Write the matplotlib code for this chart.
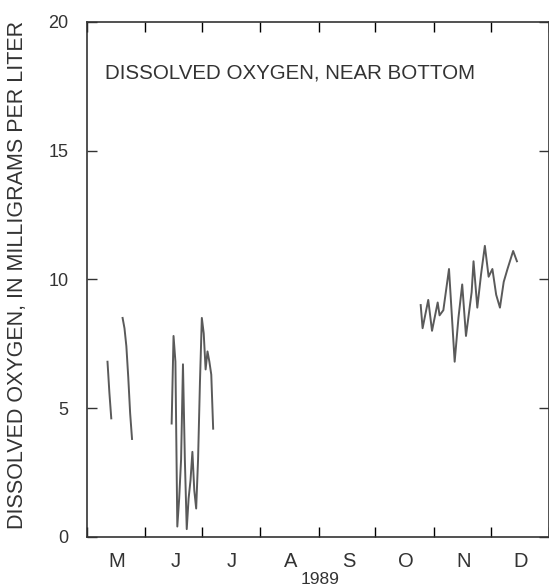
import numpy as np
import pandas as pd
import matplotlib
matplotlib.use("Agg")
import matplotlib.pyplot as plt
import matplotlib.dates as mdates

plt.rcParams['font.family'] = ['Liberation Sans', 'DejaVu Sans']

# Data (daily dissolved oxygen, mg/L); gaps are separate pieces
may_a_dates = ["1989-05-12", "1989-05-13", "1989-05-14"]
may_a_vals = [6.8, 5.6, 4.6]

may_b_dates = ["1989-05-20", "1989-05-21", "1989-05-22", "1989-05-23", "1989-05-24", "1989-05-25"]
may_b_vals = [8.5, 8.1, 7.4, 6.2, 4.8, 3.8]

jun_dates = ["1989-06-15", "1989-06-16", "1989-06-17", "1989-06-18", "1989-06-19",
             "1989-06-20", "1989-06-21", "1989-06-22", "1989-06-23", "1989-06-24",
             "1989-06-25", "1989-06-26", "1989-06-27", "1989-06-28", "1989-06-29",
             "1989-06-30", "1989-07-01", "1989-07-02", "1989-07-03", "1989-07-04",
             "1989-07-05", "1989-07-06", "1989-07-07"]
jun_vals = [4.4, 7.8, 6.8, 0.4, 1.5, 3.0, 6.7, 3.0, 0.3, 1.5,
            2.2, 3.3, 1.8, 1.1, 3.0, 6.0, 8.5, 7.9, 6.5, 7.2,
            6.8, 6.3, 4.2]

fall_dates = ["1989-10-25", "1989-10-26", "1989-10-29", "1989-10-31", "1989-11-03",
              "1989-11-04", "1989-11-06", "1989-11-09", "1989-11-12", "1989-11-14",
              "1989-11-16", "1989-11-18", "1989-11-21", "1989-11-22", "1989-11-24",
              "1989-11-26", "1989-11-28", "1989-11-30", "1989-12-02", "1989-12-04",
              "1989-12-06", "1989-12-08", "1989-12-10", "1989-12-13", "1989-12-15"]
fall_vals = [9.0, 8.1, 9.2, 8.0, 9.1, 8.6, 8.8, 10.4, 6.8, 8.5,
             9.8, 7.8, 9.5, 10.7, 8.9, 10.2, 11.3, 10.1, 10.4, 9.4,
             8.9, 9.9, 10.4, 11.1, 10.7]

month_letters = ["M", "J", "J", "A", "S", "O", "N", "D"]

fig = plt.figure(figsize=(5.49, 5.88), dpi=100)
ax = fig.add_axes([0.158, 0.087, 0.842, 0.876])

line_color = "#5a5a5a"
for d, v in [(may_a_dates, may_a_vals), (may_b_dates, may_b_vals),
             (jun_dates, jun_vals), (fall_dates, fall_vals)]:
  ax.plot(pd.to_datetime(d), v, color=line_color, linewidth=1.4)

ax.set_xlim(pd.Timestamp("1989-05-01"), pd.Timestamp("1990-01-01"))
ax.set_ylim(0, 20)

# month boundaries as ticks, letters centred mid-month
ax.xaxis.set_major_locator(mdates.MonthLocator())
ax.xaxis.set_major_formatter(plt.NullFormatter())
ax.xaxis.set_minor_locator(mdates.MonthLocator(bymonthday=17))
ax.xaxis.set_minor_formatter(plt.FixedFormatter(month_letters))
ax.tick_params(axis="x", which="major", direction="in", length=7, width=1, top=True, bottom=True)
ax.tick_params(axis="x", which="minor", length=0, pad=11, labelsize=14.5, colors="#333333")
ax.set_yticks([0, 5, 10, 15, 20])
ax.tick_params(axis="y", direction="in", length=7, width=1, left=True, right=True,
               labelsize=13, pad=13, colors="#333333")

for s in ax.spines.values():
  s.set_color("#333333")
  s.set_linewidth(1.2)

fig.text(18/549, 1-275/588, "DISSOLVED OXYGEN, IN MILLIGRAMS PER LITER", rotation=90,
         fontsize=15.5, color="#333333", ha="center", va="center")
ax.text(0.04, 0.9, "DISSOLVED OXYGEN, NEAR BOTTOM", transform=ax.transAxes,
        fontsize=14.8, color="#333333", va="center", ha="left")
fig.text(320/549, 1-579/588, "1989", fontsize=12.5, color="#333333", ha="center", va="center")

plt.savefig("out.png", dpi=100)
